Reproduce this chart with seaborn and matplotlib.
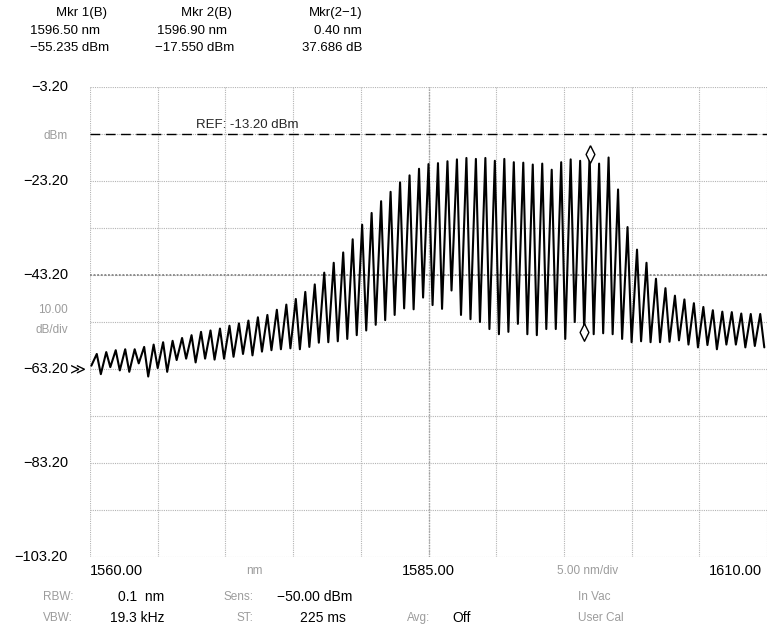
"""
Optical spectrum analyzer trace (OSA screen capture)
"""

import matplotlib
matplotlib.use("Agg")

import matplotlib.pyplot as plt
import pandas as pd
import seaborn as sns

# =========================================================
# Data (read off the screen capture)
# =========================================================

# wavelength of each ripple maximum (nm)
peak_nm = [
    1560.5, 1561.2, 1561.9, 1562.6, 1563.3, 1564.0, 1564.7, 1565.4, 1566.1, 1566.8,
    1567.5, 1568.2, 1568.9, 1569.6, 1570.3, 1571.0, 1571.7, 1572.4, 1573.1, 1573.8,
    1574.5, 1575.2, 1575.9, 1576.6, 1577.3, 1578.0, 1578.7, 1579.4, 1580.1, 1580.8,
    1581.5, 1582.2, 1582.9, 1583.6, 1584.3, 1585.0, 1585.7, 1586.4, 1587.1, 1587.8,
    1588.5, 1589.2, 1589.9, 1590.6, 1591.3, 1592.0, 1592.7, 1593.4, 1594.1, 1594.8,
    1595.5, 1596.2, 1596.9, 1597.6, 1598.3, 1599.0, 1599.7, 1600.4, 1601.1, 1601.8,
    1602.5, 1603.2, 1603.9, 1604.6, 1605.3, 1606.0, 1606.7, 1607.4, 1608.1, 1608.8,
    1609.5,
]

# level of each maximum (dBm)
peak_dbm = [
    -60.0, -59.6, -59.2, -59.0, -59.0, -58.5, -58.0, -57.5, -57.2, -56.6,
    -56.0, -55.3, -55.0, -54.6, -54.0, -53.5, -52.9, -52.2, -51.7, -50.6,
    -49.5, -48.3, -46.8, -45.2, -42.7, -40.6, -38.4, -35.6, -32.5, -30.0,
    -27.5, -25.5, -23.5, -22.0, -20.6, -19.6, -19.4, -19.0, -18.6, -18.3,
    -18.5, -18.3, -18.9, -18.5, -19.2, -19.3, -19.7, -19.5, -20.8, -19.2,
    -18.6, -18.9, -17.55, -19.5, -18.2, -25.0, -33.0, -37.8, -40.6, -44.0,
    -46.0, -47.6, -48.4, -49.2, -50.0, -50.7, -51.0, -51.1, -51.4, -51.5,
    -51.5,
]

# wavelength of each ripple minimum (nm)
valley_nm = [
    1560.1, 1560.8, 1561.5, 1562.2, 1562.9, 1563.6, 1564.3, 1565.0, 1565.7, 1566.4,
    1567.1, 1567.8, 1568.5, 1569.2, 1569.9, 1570.6, 1571.3, 1572.0, 1572.7, 1573.4,
    1574.1, 1574.8, 1575.5, 1576.2, 1576.9, 1577.6, 1578.3, 1579.0, 1579.7, 1580.4,
    1581.1, 1581.8, 1582.5, 1583.2, 1583.9, 1584.6, 1585.3, 1586.0, 1586.7, 1587.4,
    1588.1, 1588.8, 1589.5, 1590.2, 1590.9, 1591.6, 1592.3, 1593.0, 1593.7, 1594.4,
    1595.1, 1595.8, 1596.5, 1597.2, 1597.9, 1598.6, 1599.3, 1600.0, 1600.7, 1601.4,
    1602.1, 1602.8, 1603.5, 1604.2, 1604.9, 1605.6, 1606.3, 1607.0, 1607.7, 1608.4,
    1609.1, 1609.8,
]

# level of each minimum (dBm)
valley_dbm = [
    -62.5, -64.3, -62.8, -63.5, -63.8, -62.0, -64.8, -63.0, -63.8, -61.3,
    -61.0, -61.8, -61.0, -61.2, -61.0, -60.6, -60.0, -60.3, -59.5, -59.2,
    -59.0, -58.8, -59.0, -58.5, -57.6, -57.5, -57.3, -56.8, -56.0, -55.0,
    -53.8, -52.8, -51.7, -50.3, -50.5, -48.0, -49.6, -50.4, -46.5, -51.7,
    -52.6, -53.2, -54.7, -55.8, -55.3, -53.6, -55.8, -56.0, -54.7, -54.7,
    -56.8, -53.2, -55.235, -55.8, -55.6, -55.8, -56.8, -57.5, -57.3, -57.5,
    -57.5, -57.4, -57.1, -58.0, -58.6, -58.1, -59.0, -58.0, -58.0, -58.6,
    -58.3, -58.6,
]

# marker readout
marker_nm = [1596.5, 1596.9]
marker_dbm = [-55.235, -17.55]

REF_LEVEL = -13.20
Y_TICKS = [-3.2, -13.2, -23.2, -33.2, -43.2, -53.2, -63.2, -73.2, -83.2, -93.2, -103.2]
X_TICKS = [1560, 1565, 1570, 1575, 1580, 1585, 1590, 1595, 1600, 1605, 1610]

# =========================================================
# Plot Settings
# =========================================================

sns.set_style("white")
plt.rcParams["font.family"] = ["Liberation Sans", "DejaVu Sans"]

W, H = 770, 629
GRAY = "#9c9c9c"


def px(x, y):
    """pixel position -> figure fraction"""
    return x / W, 1 - y / H


def label(x, y, s, color="black", size=10, ha="left", **kw):
    fx, fy = px(x, y)
    fig.text(fx, fy, s, color=color, fontsize=size, ha=ha, va="center", **kw)


trace = pd.DataFrame({
    "nm": peak_nm + valley_nm,
    "dbm": peak_dbm + valley_dbm,
}).sort_values("nm")

fig = plt.figure(figsize=(W / 100, H / 100), dpi=100)
ax = fig.add_axes([90 / W, 1 - 557 / H, (767 - 90) / W, (557 - 87) / H])

# grid
ax.set_xlim(1560, 1610)
ax.set_ylim(-103.2, -3.2)
ax.set_xticks(X_TICKS)
ax.set_yticks(Y_TICKS)
ax.tick_params(length=0, labelbottom=False, labelleft=False)
ax.grid(True, color="#b4b4b4", linestyle=(0, (1, 1)), linewidth=0.8)
for s in ax.spines.values():
    s.set_visible(False)

ax.axhline(-43.2, color="#858585", linestyle=(0, (1, 1)), linewidth=1.3)
ax.axvline(1585, color="#a0a0a0", linestyle=(0, (1, 1)), linewidth=1.0)

# reference level
ax.axhline(REF_LEVEL, color="black", linestyle=(0, (7, 4)), linewidth=1.0)
ax.text(1567.8, -11.2, "REF: -13.20 dBm", fontsize=9.5, va="center")

# trace
sns.lineplot(
    data=trace, x="nm", y="dbm", ax=ax,
    color="black", linewidth=1.5, estimator=None, sort=False
)
ax.set_xlabel("")
ax.set_ylabel("")

# markers
diamond = [(0, 1), (0.5, 0), (0, -1), (-0.5, 0), (0, 1)]
sns.scatterplot(
    x=marker_nm, y=marker_dbm, ax=ax, marker=diamond, s=160,
    facecolor="white", edgecolor="black", linewidth=1.0, zorder=5
)

# y labels
for v, y in zip([-3.2, -23.2, -43.2, -63.2, -83.2, -103.2], [87, 181, 275, 369, 463, 557]):
    label(68, y, f"{v:.2f}".replace("-", "\u2212"), size=10.5, ha="right")
label(70, 369, "\u226b", size=11)
label(68, 136, "dBm", color=GRAY, size=8.5, ha="right")
label(68, 310, "10.00", color=GRAY, size=8.5, ha="right")
label(68, 330, "dB/div", color=GRAY, size=8.5, ha="right")

# x labels
label(90, 571, "1560.00", size=10.5)
label(428, 571, "1585.00", size=10.5, ha="center")
label(762, 571, "1610.00", size=10.5, ha="right")
label(254, 571, "nm", color=GRAY, size=8.5, ha="center")
label(588, 571, "5.00 nm/div", color=GRAY, size=8.5, ha="center")

# header (marker readout)
label(81, 13, "Mkr 1(B)", size=9.5, ha="center")
label(30, 31, "1596.50 nm", size=9.5)
label(30, 48, "\u221255.235 dBm", size=9.5)
label(206, 13, "Mkr 2(B)", size=9.5, ha="center")
label(157, 31, "1596.90 nm", size=9.5)
label(155, 48, "\u221217.550 dBm", size=9.5)
label(362, 13, "Mkr(2\u22121)", size=9.5, ha="right")
label(362, 31, "0.40 nm", size=9.5, ha="right")
label(362, 48, "37.686 dB", size=9.5, ha="right")

# footer (instrument settings)
label(73, 597, "RBW:", color=GRAY, size=8.5, ha="right")
label(118, 597, "0.1  nm", size=10)
label(253, 597, "Sens:", color=GRAY, size=8.5, ha="right")
label(277, 597, "\u221250.00 dBm", size=10)
label(578, 597, "In Vac", color=GRAY, size=8.5)
label(73, 618, "VBW:", color=GRAY, size=8.5, ha="right")
label(110, 618, "19.3 kHz", size=10)
label(253, 618, "ST:", color=GRAY, size=8.5, ha="right")
label(300, 618, "225 ms", size=10)
label(430, 618, "Avg:", color=GRAY, size=8.5, ha="right")
label(452, 618, "Off", size=10)
label(578, 618, "User Cal", color=GRAY, size=8.5)

fig.savefig("out.png", dpi=100)
